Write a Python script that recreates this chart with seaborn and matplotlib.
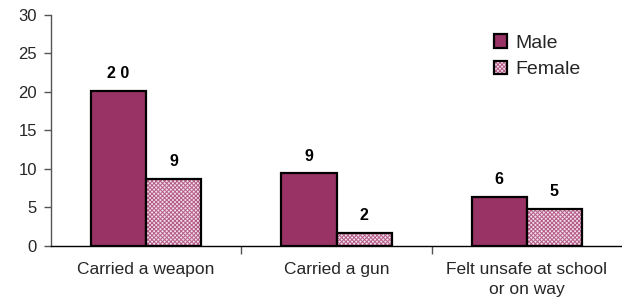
import matplotlib
matplotlib.use("Agg")
import matplotlib.pyplot as plt
import seaborn as sns
import pandas as pd
from matplotlib.colors import to_rgba
from matplotlib.patches import Patch

categories = ["Carried a weapon", "Carried a gun", "Felt unsafe at school\nor on way"]
male = [20.1, 9.4, 6.3]
female = [8.7, 1.7, 4.8]
male_labels = ["2 0", "9", "6"]
female_labels = ["9", "2", "5"]
series = ["Male", "Female"]

df = pd.DataFrame({
    "category": categories * 2,
    "value": male + female,
    "sex": [series[0]] * 3 + [series[1]] * 3,
})

sns.set_theme(style="white")
plt.rcParams["font.family"] = ["Liberation Sans", "DejaVu Sans"]
plt.rcParams["hatch.linewidth"] = 0.7

fig = plt.figure(figsize=(6.22, 3.07), dpi=100)
ax = fig.add_axes([0.082, 0.2, 0.918, 0.751])

male_color = "#993366"
female_face = "#f3dde8"
hatch_col = "#b45c88"

sns.barplot(data=df, x="category", y="value", hue="sex", order=categories,
            hue_order=series, palette=[male_color, female_face], width=0.58,
            saturation=1, edgecolor="black", linewidth=1.6, ax=ax, legend=False)


def pink_hatch(p):
    p.set_hatch("xxxxxxxx")
    if hasattr(p, "set_hatchcolor"):
        p.set_hatchcolor(hatch_col)
    else:
        p._hatch_color = to_rgba(hatch_col)


n = len(categories)
for i, p in enumerate(ax.patches[:2 * n]):
    if i >= n:
        p.set_facecolor(female_face)
        p.set_edgecolor("black")
        pink_hatch(p)

labels = male_labels + female_labels
for p, lab in zip(ax.patches[:2 * n], labels):
    ax.annotate(lab, (p.get_x() + p.get_width() / 2, p.get_height()),
                xytext=(0, 7), textcoords="offset points", ha="center", va="bottom",
                fontsize=11.5, fontweight="bold", color="black")

ax.set_xlim(-0.5, 2.5)
ax.set_ylim(0, 30)
ax.set_yticks([0, 5, 10, 15, 20, 25, 30])
ax.set_xlabel("")
ax.set_ylabel("")
ax.tick_params(axis="y", which="major", left=True, length=5, width=1, color="#555555",
               labelsize=12, pad=5)
ax.tick_params(axis="x", which="major", length=0, labelsize=12.5, pad=12)
for t in ax.get_xticklabels():
    t.set_linespacing(1.4)
ax.set_xticks([0.5, 1.5], minor=True)
ax.tick_params(axis="x", which="minor", bottom=True, length=6, width=1, color="#555555")

for s in ["top", "right"]:
    ax.spines[s].set_visible(False)
ax.spines["left"].set_color("#555555")
ax.spines["left"].set_linewidth(1)
ax.spines["bottom"].set_color("black")
ax.spines["bottom"].set_linewidth(1)

h_male = Patch(facecolor=male_color, edgecolor="black", linewidth=1.6, label="Male")
h_fem = Patch(facecolor=female_face, edgecolor="black", linewidth=1.6, hatch="xxxxxxxx", label="Female")
pink_hatch(h_fem)
leg = ax.legend(handles=[h_male, h_fem], loc="upper left", bbox_to_anchor=(0.762, 0.95),
                frameon=False, fontsize=14, handlelength=0.7, handleheight=0.7,
                handletextpad=0.4, labelspacing=0.45, borderaxespad=0)
for lh in leg.legend_handles:
    if lh.get_label() == "Female" or lh.get_hatch():
        pink_hatch(lh)

fig.savefig("out.png", dpi=100)
